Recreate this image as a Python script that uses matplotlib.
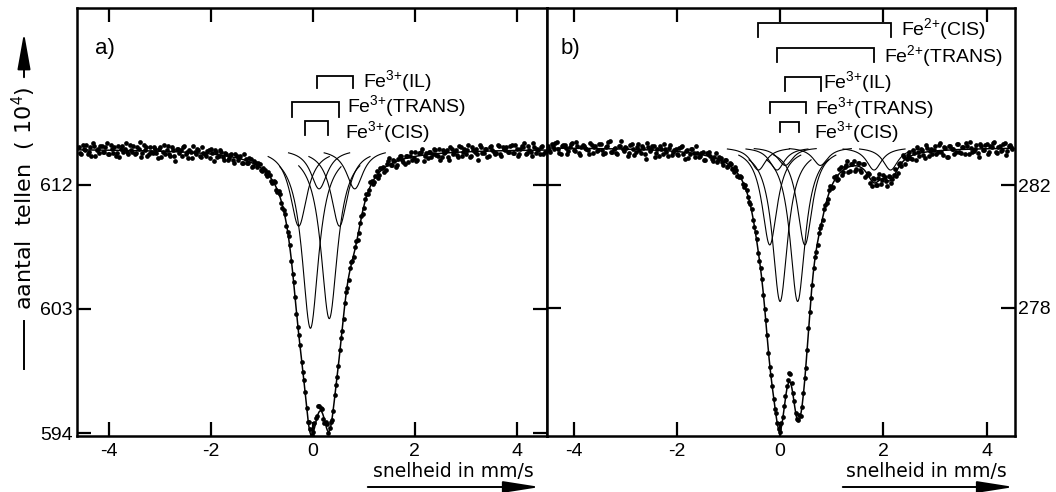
import numpy as np
import matplotlib
matplotlib.use("Agg")
import matplotlib.pyplot as plt

plt.rcParams['font.family'] = ['Liberation Sans', 'DejaVu Sans']
plt.rcParams['mathtext.fontset'] = 'custom'
plt.rcParams['mathtext.rm'] = 'Liberation Sans'
plt.rcParams['mathtext.default'] = 'rm'

W, H = 1056, 492

# panel a: fitted lines (position mm/s, depth in 10^4 counts, half width)
base_a = 614.6
pos_a = [-0.05, 0.32, -0.28, 0.52, 0.12, 0.82]
depth_a = [13.0, 12.3, 5.6, 5.6, 2.9, 2.9]
hwhm_a = [0.20, 0.20, 0.20, 0.20, 0.20, 0.20]

# panel b
base_b = 283.25
pos_b = [0.00, 0.34, -0.20, 0.48, 0.10, 0.78, -0.06, 1.82, -0.42, 2.14]
depth_b = [5.05, 5.05, 3.2, 3.2, 0.6, 0.6, 0.75, 0.75, 0.75, 0.75]
hwhm_b = [0.18] * 10

# measured counts, panel a, even channels (-4.60 ... 4.55 mm/s, step 0.05)
counts_a = [
    614.7, 614.2, 614.6, 614.9, 614.4, 614.1, 614.8, 614.5, 614.3, 614.8,
    614.4, 615.0, 614.2, 614.6, 614.7, 614.3, 614.0, 614.8, 614.6, 614.4,
    614.9, 614.4, 614.2, 614.7, 615.1, 614.3, 614.5, 614.1, 614.7, 614.3,
    614.6, 613.9, 614.7, 614.4, 614.2, 614.8, 614.1, 614.5, 613.7, 614.6,
    614.5, 614.7, 614.2, 613.9, 614.4, 614.8, 614.2, 614.5, 614.0, 614.3,
    614.1, 614.5, 614.6, 613.7, 614.4, 614.1, 614.4, 613.8, 614.2, 613.9,
    614.2, 613.6, 614.1, 614.0, 613.6, 614.2, 613.6, 613.9, 613.3, 613.7,
    613.3, 613.5, 613.0, 613.1, 612.6, 612.7, 612.1, 612.2, 611.5, 611.3,
    610.3, 609.9, 608.6, 607.6, 605.5, 603.9, 601.7, 600.4, 598.4, 597.0,
    594.8, 594.3, 594.1, 595.1, 596.0, 595.8, 595.0, 594.8, 594.0, 594.8,
    595.6, 597.5, 598.9, 600.9, 602.3, 604.2, 605.1, 606.4, 606.8, 607.9,
    608.5, 609.7, 610.3, 611.3, 611.6, 612.3, 612.2, 613.0, 612.7, 613.2,
    612.9, 613.5, 613.9, 613.4, 613.7, 613.4, 614.1, 613.8, 613.5, 614.1,
    614.1, 613.8, 614.4, 613.8, 614.3, 614.6, 614.1, 613.9, 614.4, 614.2,
    614.5, 614.1, 613.8, 614.5, 614.4, 614.0, 614.7, 614.2, 614.5, 614.0,
    614.7, 614.4, 614.2, 614.9, 614.1, 614.5, 614.6, 613.8, 614.7, 614.3,
    614.6, 614.1, 614.8, 614.4, 614.3, 614.8, 614.1, 614.6, 614.7, 614.4,
    614.9, 614.3, 614.6, 614.2, 614.8, 615.0, 614.3, 614.5, 614.1, 614.7,
    614.6, 614.2, 614.8, 614.4,
]

# panel a, odd channels (-4.575 ... 4.525 mm/s)
counts_a2 = [
    614.3, 614.9, 614.5, 614.2, 614.7, 615.0, 614.1, 614.6, 614.8, 614.4,
    614.7, 614.2, 614.9, 614.3, 614.1, 614.8, 614.6, 614.4, 615.0, 614.2,
    614.5, 614.8, 614.3, 614.6, 614.0, 614.9, 614.7, 614.2, 614.4, 614.7,
    614.3, 614.6, 614.0, 614.9, 614.5, 614.2, 614.7, 614.1, 614.6, 614.3,
    614.1, 614.8, 614.35, 614.5, 613.9, 614.4, 614.6, 614.1, 614.7, 614.2,
    614.45, 613.9, 614.3, 614.5, 614.0, 614.55, 614.0, 614.3, 613.8, 614.15,
    613.8, 614.25, 613.8, 614.1, 613.55, 613.85, 613.6, 613.85, 613.35, 613.55,
    613.55, 613.05, 613.2, 612.8, 612.9, 612.25, 612.25, 611.6, 611.55, 610.7,
    610.2, 609.0, 608.25, 606.45, 604.95, 602.65, 601.15, 599.15, 597.85, 595.8,
    594.8, 593.9, 594.75, 595.25, 596.0, 595.75, 594.75, 594.65, 594.4, 594.95,
    596.75, 598.05, 600.05, 601.4, 603.4, 604.5, 605.95, 606.45, 607.5, 608.0,
    609.25, 609.85, 611.0, 611.3, 612.2, 612.05, 612.65, 612.5, 613.2, 613.25,
    613.05, 613.7, 613.45, 613.8, 613.25, 613.85, 614.1, 613.65, 614.1, 613.65,
    614.4, 613.9, 613.75, 614.3, 614.4, 613.75, 614.3, 614.4, 614.0, 614.6,
    614.15, 614.6, 614.0, 614.3, 614.5, 613.8, 614.6, 614.4, 614.15, 614.8,
    614.1, 614.6, 614.5, 614.0, 614.7, 614.4, 614.2, 614.9, 614.3, 614.6,
    614.0, 614.7, 614.5, 614.25, 614.9, 614.2, 614.7, 614.5, 614.4, 614.8,
    614.3, 614.9, 614.1, 614.6, 614.7, 614.2, 614.8, 614.4, 615.0, 614.3,
    614.5, 614.7, 614.2,
]

# measured counts, panel b, even channels (-4.50 ... 4.50 mm/s, step 0.05)
counts_b = [
    283.27, 283.10, 283.30, 283.37, 283.19, 283.04, 283.32, 283.23, 283.12, 283.35,
    283.15, 283.41, 283.06, 283.25, 283.30, 283.19, 283.01, 283.32, 283.26, 283.12,
    283.36, 283.16, 283.07, 283.27, 283.44, 283.09, 283.22, 283.03, 283.30, 283.18,
    283.26, 282.96, 283.31, 283.18, 283.10, 283.35, 283.06, 283.22, 282.86, 283.25,
    283.18, 283.29, 283.06, 282.97, 283.20, 283.35, 283.08, 283.22, 282.98, 283.14,
    283.03, 283.22, 283.28, 282.87, 283.14, 283.03, 283.20, 282.92, 283.07, 282.95,
    283.10, 282.83, 283.04, 282.96, 282.81, 283.06, 282.82, 282.88, 282.65, 282.83,
    282.63, 282.70, 282.44, 282.50, 282.27, 282.26, 281.95, 281.86, 281.46, 281.24,
    280.64, 280.23, 279.52, 278.93, 277.94, 277.09, 276.06, 275.43, 274.67, 274.22,
    273.92, 274.42, 275.11, 275.63, 275.84, 275.21, 274.54, 274.33, 274.45, 275.21,
    276.03, 277.33, 278.31, 279.30, 279.81, 280.44, 280.70, 281.21, 281.42, 281.86,
    281.90, 282.27, 282.18, 282.54, 282.35, 282.61, 282.78, 282.47, 282.69, 282.46,
    282.74, 282.51, 282.71, 282.26, 282.39, 282.07, 282.24, 282.02, 282.23, 282.03,
    282.33, 282.14, 282.32, 282.06, 282.35, 282.29, 282.70, 282.64, 282.94, 282.85,
    283.10, 282.85, 283.06, 283.24, 282.96, 283.15, 282.89, 283.21, 283.13, 283.01,
    283.27, 283.08, 283.38, 283.00, 283.21, 282.93, 283.27, 283.19, 283.09, 283.34,
    283.05, 283.25, 283.38, 283.02, 283.22, 283.13, 283.32, 282.94, 283.28, 283.17,
    283.36, 283.10, 283.25, 283.42, 283.07, 283.30, 283.16, 283.39, 283.13, 283.33,
    283.19,
]

# panel b, odd channels (-4.475 ... 4.475 mm/s)
counts_b2 = [
    283.14, 283.36, 283.19, 283.42, 283.07, 283.28, 283.33, 283.02, 283.24, 283.37,
    283.11, 283.28, 282.99, 283.33, 283.22, 283.15, 283.39, 283.07, 283.29, 283.16,
    283.35, 283.03, 283.24, 283.42, 283.10, 283.19, 283.05, 283.29, 283.45, 283.12,
    283.23, 283.06, 283.35, 282.98, 283.25, 283.15, 283.30, 283.01, 283.37, 283.11,
    283.27, 282.91, 283.18, 283.29, 283.03, 283.20, 282.95, 283.31, 283.09, 283.20,
    282.98, 283.26, 283.03, 283.12, 282.88, 283.18, 283.06, 283.27, 282.92, 283.07,
    282.84, 283.06, 283.09, 282.85, 282.93, 282.76, 282.94, 282.75, 282.83, 282.60,
    282.73, 282.52, 282.60, 282.31, 282.32, 282.05, 282.00, 281.62, 281.40, 280.85,
    280.48, 279.80, 279.29, 278.40, 277.59, 276.51, 275.81, 275.01, 274.54, 274.03,
    274.23, 274.79, 275.44, 275.86, 275.53, 274.93, 274.35, 274.49, 274.76, 275.71,
    276.60, 277.87, 278.75, 279.64, 280.06, 280.62, 280.85, 281.37, 281.54, 281.97,
    281.95, 282.31, 282.20, 282.59, 282.42, 282.68, 282.42, 282.69, 282.78, 282.54,
    282.73, 282.43, 282.69, 282.33, 282.36, 281.99, 282.22, 282.00, 282.37, 282.16,
    282.28, 281.97, 282.28, 282.20, 282.53, 282.40, 282.72, 282.98, 282.71, 283.00,
    282.89, 283.14, 282.82, 283.08, 283.19, 282.99, 283.33, 282.95, 283.18, 283.14,
    283.02, 283.32, 283.09, 283.25, 282.94, 283.30, 283.19, 283.04, 283.36, 283.09,
    283.24, 283.01, 283.30, 283.43, 283.10, 283.20, 283.05, 283.35, 283.15, 283.31,
    283.01, 283.28, 283.40, 283.08, 283.25, 283.13, 283.36, 282.99, 283.30, 283.24,
]

# brackets: (left, right, top, leg bottom, label)
brackets_a = [
    (0.07, 0.79, 619.9, 618.97, r'Fe$^{3{+}}$(IL)'),
    (-0.42, 0.52, 618.0, 616.9, r'Fe$^{3{+}}$(TRANS)'),
    (-0.16, 0.30, 616.6, 615.6, r'Fe$^{3{+}}$(CIS)'),
]
label_xy_a = [(0.98, 619.05), (0.66, 617.25), (0.63, 615.35)]

brackets_b = [
    (-0.42, 2.14, 287.3, 286.86, r'Fe$^{2{+}}$(CIS)'),
    (-0.06, 1.82, 286.48, 286.05, r'Fe$^{2{+}}$(TRANS)'),
    (0.10, 0.79, 285.54, 285.10, r'Fe$^{3{+}}$(IL)'),
    (-0.19, 0.50, 284.74, 284.36, r'Fe$^{3{+}}$(TRANS)'),
    (0.00, 0.36, 284.08, 283.76, r'Fe$^{3{+}}$(CIS)'),
]
label_xy_b = [(2.34, 286.9), (2.01, 286.02), (0.84, 285.17), (0.68, 284.34), (0.66, 283.55)]

xticks = [-4, -2, 0, 2, 4]
xticklabels = ['-4', '-2', '0', '2', '4']
yticks_a = [594, 603, 612]
yticks_b = [278, 282]


def lorentz(x, p, d, g):
    return d / (1 + ((x - p) / g) ** 2)


def spectrum(x, base, pos, depth, hwhm):
    y = np.full_like(x, base, dtype=float)
    for p, d, g in zip(pos, depth, hwhm):
        y -= lorentz(x, p, d, g)
    return y


def draw_panel(ax, xlim, ylim, base, pos, depth, hwhm, xd, yd, brackets, label_xy):
    xs = np.linspace(xlim[0], xlim[1], 1500)
    ax.plot(xd, yd, 'o', color='black', ms=3.4, mew=0, zorder=3)
    ax.plot(xs, spectrum(xs, base, pos, depth, hwhm), color='black', lw=1.1, zorder=4)
    for p, d, g in zip(pos, depth, hwhm):
        xc = np.linspace(p - 0.6, p + 0.6, 200)
        ax.plot(xc, base - lorentz(xc, p, d, g), color='black', lw=0.8, zorder=2)
    for (x0, x1, top, bot, lab), (lx, ly) in zip(brackets, label_xy):
        ax.plot([x0, x0, x1, x1], [bot, top, top, bot], color='black', lw=1.3,
                solid_joinstyle='miter')
        ax.text(lx, ly, lab, fontsize=14, va='baseline', ha='left')
    ax.set_xlim(*xlim)
    ax.set_ylim(*ylim)
    ax.set_xticks(xticks)
    ax.set_xticklabels(xticklabels)
    ax.tick_params(axis='both', direction='in', length=10, width=1.6, labelsize=14,
                   top=True, bottom=True, left=True, right=True)
    ax.tick_params(axis='x', pad=5)
    ax.tick_params(axis='y', pad=3)
    for s in ax.spines.values():
        s.set_linewidth(1.8)


# channel velocities of both halves
xd_a = np.concatenate([np.arange(-4.60, 4.56, 0.05), np.arange(-4.575, 4.54, 0.05)])
xd_b = np.concatenate([np.arange(-4.50, 4.52, 0.05), np.arange(-4.475, 4.49, 0.05)])
yd_a = counts_a + counts_a2
yd_b = counts_b + counts_b2

fig = plt.figure(figsize=(W / 100, H / 100), dpi=100)
ax_a = fig.add_axes([76.7 / W, 56 / H, 470 / W, 428 / H])
ax_b = fig.add_axes([546.7 / W, 56 / H, 468.3 / W, 428 / H])

draw_panel(ax_a, (-4.64, 4.59), (593.8, 624.8), base_a, pos_a, depth_a, hwhm_a,
           xd_a, yd_a, brackets_a, label_xy_a)
draw_panel(ax_b, (-4.52, 4.55), (273.8, 287.8), base_b, pos_b, depth_b, hwhm_b,
           xd_b, yd_b, brackets_b, label_xy_b)
ax_a.set_yticks(yticks_a)
ax_b.set_yticks(yticks_b)
ax_b.tick_params(axis='y', labelleft=False, labelright=True, pad=2)

ax_a.text(0.04, 0.905, 'a)', transform=ax_a.transAxes, fontsize=16, va='center')
ax_b.text(0.03, 0.905, 'b)', transform=ax_b.transAxes, fontsize=16, va='center')


def fx(px):
    return px / W


def fy(py):
    return 1 - py / H


# x axis captions with arrows
for x0, x1, xt in [(365, 543, 373), (840, 1017, 846)]:
    fig.text(fx(xt), fy(477), 'snelheid in mm/s', fontsize=13.5,
             family='DejaVu Sans', va='baseline', ha='left')
    fig.add_artist(matplotlib.patches.FancyArrowPatch(
        (fx(x0), fy(487)), (fx(x1), fy(487)), transform=fig.transFigure,
        arrowstyle='-|>,head_length=1.4,head_width=0.22', mutation_scale=16,
        lw=1.4, color='black'))

# y axis caption
fig.text(fx(24), fy(198), 'aantal  tellen  ( 10$^4$)', rotation=90, fontsize=16,
         family='DejaVu Sans', va='center', ha='center')
fig.add_artist(matplotlib.lines.Line2D([fx(24), fx(24)], [fy(369), fy(321)],
                                       transform=fig.transFigure, color='black', lw=1.4))
fig.add_artist(matplotlib.patches.FancyArrowPatch(
    (fx(24), fy(80)), (fx(24), fy(30)), transform=fig.transFigure,
    arrowstyle='-|>,head_length=1.4,head_width=0.25', mutation_scale=16,
    lw=1.4, color='black'))

fig.savefig('out.png', dpi=100)
